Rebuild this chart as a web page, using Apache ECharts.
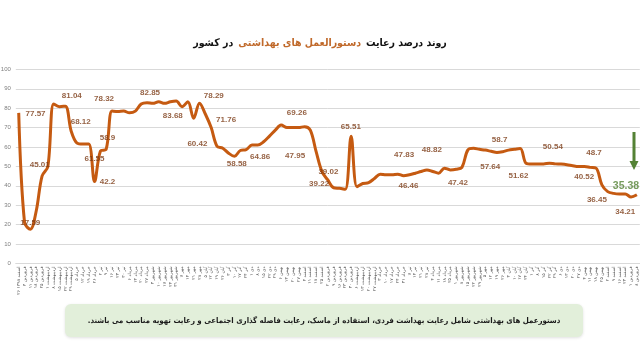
<!DOCTYPE html>
<html>
<head>
<meta charset="utf-8">
<script src="https://cdn.jsdelivr.net/npm/echarts@6/dist/echarts.min.js"></script>
<style>html,body{margin:0;padding:0;background:#fff}#c{width:640px;height:351px}</style>
</head>
<body>
<div id="c"></div>
<script>
// ---------- DATA ----------
const categories = [
'۲۶ اسفند ۱۳۹۸','۴ فروردین','۱۱ فروردین','۱۸ فروردین','۲۵ فروردین','۱ اردیبهشت','۸ اردیبهشت','۱۵ اردیبهشت','۲۲ اردیبهشت','۲۹ اردیبهشت',
'۵ خرداد','۱۲ خرداد','۱۹ خرداد','۲۶ خرداد','۲ تیر','۹ تیر','۱۶ تیر','۲۳ تیر','۳۰ تیر','۶ مرداد',
'۱۳ مرداد','۲۰ مرداد','۲۷ مرداد','۳ شهریور','۱۰ شهریور','۱۷ شهریور','۲۴ شهریور','۳۱ شهریور','۷ مهر','۱۴ مهر',
'۲۱ مهر','۲۸ مهر','۵ آبان','۱۲ آبان','۱۹ آبان','۲۶ آبان','۳ آذر','۱۰ آذر','۱۷ آذر','۲۴ آذر',
'۱ دی','۸ دی','۱۵ دی','۲۲ دی','۲۹ دی','۶ بهمن','۱۳ بهمن','۲۰ بهمن','۲۷ بهمن','۴ اسفند',
'۱۱ اسفند','۱۸ اسفند','۲۵ اسفند','۲ فروردین','۹ فروردین','۱۶ فروردین','۲۳ فروردین','۳۰ فروردین','۶ اردیبهشت','۱۳ اردیبهشت',
'۲۰ اردیبهشت','۲۷ اردیبهشت','۳ خرداد','۱۰ خرداد','۱۷ خرداد','۲۴ خرداد','۳۱ خرداد','۷ تیر','۱۴ تیر','۲۱ تیر',
'۲۸ تیر','۴ مرداد','۱۱ مرداد','۱۸ مرداد','۲۵ مرداد','۱ شهریور','۸ شهریور','۱۵ شهریور','۲۲ شهریور','۲۹ شهریور',
'۵ مهر','۱۲ مهر','۱۹ مهر','۲۶ مهر','۳ آبان','۱۰ آبان','۱۷ آبان','۲۴ آبان','۱ آذر','۸ آذر',
'۱۵ آذر','۲۲ آذر','۲۹ آذر','۶ دی','۱۳ دی','۲۰ دی','۲۷ دی','۴ بهمن','۱۱ بهمن','۱۸ بهمن',
'۲۵ بهمن','۲ اسفند','۹ اسفند','۱۶ اسفند','۲۳ اسفند','۱ فروردین','۸ فروردین'
];

const compliance = [
77.57, 21, 17.59, 27, 45.01, 50, 82.2, 80.8, 81.04, 68.12,
62, 61.5, 61.55, 42.2, 57.8, 58.9, 78.5, 78.32, 78.5, 77.6,
78.5, 82.2, 82.85, 82.5, 83.3, 82.5, 83.3, 83.68, 80.7, 83.3,
74.8, 82.6, 77, 70, 60.42, 59.4, 56.8, 55.2, 58.2, 58.6,
61, 61, 62.7, 65.6, 68.7, 71.3, 70, 70, 70, 70.5,
68.7, 57.6, 47.3, 43, 39, 38.7, 38.2, 65.51, 39.5, 41.2,
41.6, 43.8, 46, 45.7, 45.7, 46, 45.2, 45.7, 46.5, 47.4,
48.2, 47.4, 46.5, 49.1, 48.2, 48.5, 49.5, 58.4, 59.3, 58.8,
58.4, 57.8, 57.2, 57.6, 58.4, 58.8, 59.2, 51.6, 51.2, 51.3,
51.3, 51.6, 51.3, 51.2, 50.9, 50.3, 49.9, 49.9, 49.5, 49.1,
40.5, 37, 36.1, 35.8, 35.8, 34.21, 35.38
];

const labelIndex = [0, 2, 4, 8, 9, 12, 13, 15, 17, 22, 27, 34, 31, 33, 37, 41, 48, 47, 53, 52, 57, 66, 67, 71, 75, 83, 81, 86, 92, 98, 97, 100, 105, 106];
const labelText = ['77.57','17.59','45.01','81.04','68.12','61.55','42.2','58.9','78.32','82.85','83.68','60.42','78.29','71.76','58.58','64.86','69.26','47.95','39.02','39.22','65.51','47.83','46.46','48.82','47.42','58.7','57.64','51.62','50.54','48.7','40.52','36.45','34.21','35.38'];

const titleParts = ['در کشور', 'دستورالعمل های بهداشتی', 'روند درصد رعایت'];
const noteText = 'دستورعمل های بهداشتی شامل رعایت بهداشت فردی، استفاده از ماسک، رعایت فاصله گذاری اجتماعی و رعایت تهویه مناسب می باشند.\u200F';

// ---------- LAYOUT (label offsets in px relative to their point) ----------
const labelOffsets = [
[16.8,0.4],[-0.1,-6.6],[-2.3,-10.8],[6.4,-10.2],[9.5,-9.5],[5.8,15.3],[13,0.2],[1.3,-11.8],[-13.8,-12.5],[3,-9.4],
[-3.4,14.6],[-19.6,-2.2],[14.3,-7.2],[14.9,-7.6],[2.3,7],[2.3,11.6],[-1.8,-14.9],[2.3,27.7],[0.6,-8.3],[-2.9,12.4],
[-0.3,-9.6],[0.5,-21.4],[-1,11],[-0.9,-21.4],[1.8,13.4],[-3.1,-11.7],[-0.9,15.4],[-1.8,27.4],[-2.4,-17.2],[3.8,-14.7],
[-0.2,10.1],[-5,14.5],[-5.8,14.7],[-10.9,-8.8]
];

const FA_FONT = '"DejaVu Sans Condensed", "DejaVu Sans", sans-serif';

const chart = echarts.init(document.getElementById('c'), null, {renderer: 'canvas'});
const lastK = labelText.length - 1;
const labelData = labelIndex.map((idx, k) => ({
  value: [idx, compliance[idx]],
  label: k === lastK
    ? {formatter: labelText[k], offset: labelOffsets[k], color: '#548235', fontSize: 10.5, fontWeight: 'bold'}
    : {formatter: labelText[k], offset: labelOffsets[k]}
}));

chart.setOption({
  animation: false,
  backgroundColor: '#ffffff',
  title: {
    text: '{a|' + titleParts[0] + '} {b|' + titleParts[1] + '} {a|' + titleParts[2] + '}',
    left: 'center',
    top: 29,
    textStyle: {
      rich: {
        a: {fontFamily: FA_FONT, fontSize: 10.5, fontWeight: 'bold', color: '#111111'},
        b: {fontFamily: FA_FONT, fontSize: 10.5, fontWeight: 'bold', color: '#C0692A'}
      }
    }
  },
  grid: {left: 15.8, right: 0.2, top: 69.4, bottom: 87.6, containLabel: false, outerBoundsMode: 'none'},
  xAxis: {
    type: 'category',
    data: categories,
    boundaryGap: true,
    axisLine: {lineStyle: {color: '#D9D9D9', width: 1}},
    axisTick: {show: false},
    axisLabel: {interval: 0, rotate: 90, fontSize: 4.5, color: '#595959', fontFamily: 'DejaVu Sans', margin: 3}
  },
  yAxis: {
    type: 'value',
    min: 0, max: 100, interval: 10,
    axisLine: {show: false},
    axisTick: {show: false},
    splitLine: {lineStyle: {color: '#D9D9D9', width: 1}},
    axisLabel: {fontSize: 6, color: '#7F7F7F', fontFamily: 'Liberation Sans', margin: 5}
  },
  series: [
    {
      type: 'line',
      data: compliance,
      smooth: 0.35,
      symbol: 'none',
      lineStyle: {color: '#C55A11', width: 3},
      z: 2
    },
    {
      type: 'scatter',
      data: labelData,
      symbol: 'circle',
      symbolSize: 1,
      itemStyle: {color: 'rgba(0,0,0,0)'},
      silent: true,
      z: 5,
      label: {
        show: true,
        position: 'inside',
        fontFamily: 'Liberation Sans',
        fontSize: 8,
        fontWeight: 'bold',
        color: '#7A3A14'
      }
    }
  ],
  graphic: [
    {
      type: 'polygon',
      shape: {points: [[632.5,132],[635.5,132],[635.5,161],[638.5,161],[634,170],[629.5,161],[632.5,161]]},
      style: {fill: '#548235'},
      z: 10
    },
    {
      type: 'rect',
      shape: {x: 65, y: 304, width: 518, height: 33, r: 6},
      style: {fill: '#E2EFDA', shadowBlur: 3, shadowColor: 'rgba(0,0,0,0.12)', shadowOffsetY: 1},
      z: 10
    },
    {
      type: 'text',
      x: 324, y: 320.5,
      style: {text: noteText, fill: '#1a1a1a', font: 'bold 7.8px ' + FA_FONT, align: 'center', verticalAlign: 'middle'},
      z: 11
    }
  ]
});
</script>
</body>
</html>
